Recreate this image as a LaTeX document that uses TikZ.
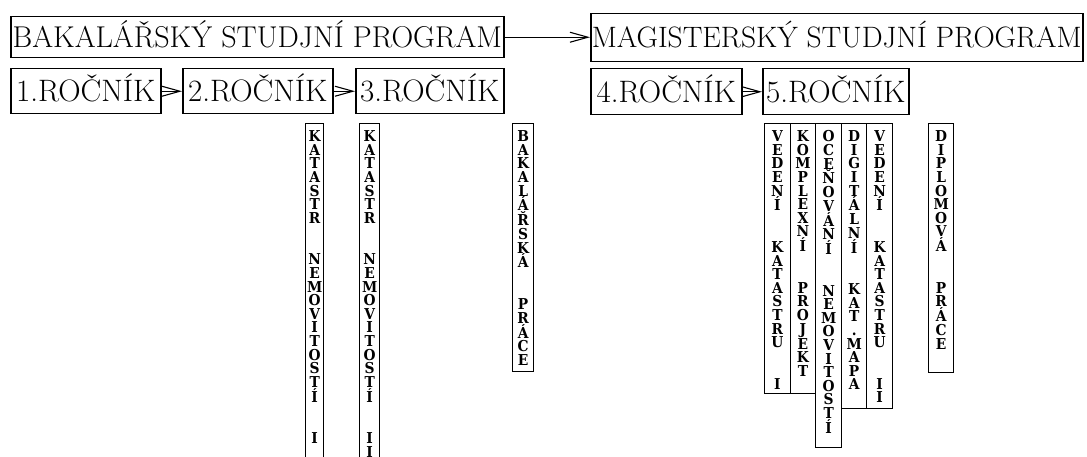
\documentclass[tikz,border=0pt]{standalone}
\usepackage{fontspec}
\newfontfamily\vfont{DejaVu Serif}
\usetikzlibrary{arrows.meta}
\newcommand\vletters[1]{\scalebox{0.92}[1]{\parbox{30pt}{\centering\vfont\bfseries\fontsize{15}{13.6}\selectfont #1}}}
\newcommand\vcol[6]{%
  \node[vbox, minimum width=#3pt, minimum height=#5pt] (#1) at (#2,#4) {};
  \node[vtext] (#1-t) at (#1.north) {\vletters{#6}};
}
\begin{document}
\begin{tikzpicture}[x=1pt,y=-1pt,
  box/.style={draw, line width=1.5pt, inner sep=0pt, text depth=0pt, anchor=north west},
  titlebox/.style={box, font=\fontsize{30.1}{32}\selectfont, text height=20.5pt},
  yearbox/.style={box, font=\fontsize{31}{33}\selectfont, text height=21pt},
  arr/.style={line width=1.1pt, -{Straight Barb[length=18pt,width=10pt,line width=1.1pt]}},
  vbox/.style={draw, line width=1.3pt, inner sep=0pt, anchor=north west},
  vtext/.style={inner sep=0pt, anchor=north, yshift=-7.5pt}
]
\useasboundingbox (0,0) rectangle (1087,457);
\clip (0,0) rectangle (1087,457);
% programmes
\node[titlebox, minimum width=493pt, minimum height=41pt] (bak) at (10,16) {BAKALÁŘSKÝ STUDJNÍ PROGRAM};
\node[titlebox, font=\fontsize{29.5}{32}\selectfont, minimum width=492pt, minimum height=48pt] (mag) at (590,13) {MAGISTERSKÝ STUDJNÍ PROGRAM};
\draw[arr] (bak.east) -- (bak.east -| mag.west);
% years
\node[yearbox, minimum width=150pt, minimum height=45pt] (r1) at (10,68) {1.ROČNÍK};
\node[yearbox, minimum width=150pt, minimum height=45pt] (r2) at (182,68) {2.ROČNÍK};
\node[yearbox, minimum width=148pt, minimum height=45pt] (r3) at (355,68) {3.ROČNÍK};
\node[yearbox, minimum width=151pt, minimum height=46pt] (r4) at (590,68) {4.ROČNÍK};
\node[yearbox, minimum width=146pt, minimum height=46pt] (r5) at (762,68) {5.ROČNÍK};
\draw[arr] (r1.east) -- (r2.west);
\draw[arr] (r2.east) -- (r3.west);
\draw[arr] (r4.east) -- (r5.west);
% subjects
\vcol{kn1}{305}{18}{123}{347}{K\\A\\T\\A\\S\\T\\R\\[28pt]N\\E\\M\\O\\V\\I\\T\\O\\S\\T\\Í\\[28pt]I}
\vcol{kn2}{359}{20}{123}{347}{K\\A\\T\\A\\S\\T\\R\\[28pt]N\\E\\M\\O\\V\\I\\T\\O\\S\\T\\Í\\[28pt]I\\I}
\vcol{bp}{512}{21}{123}{248}{B\\A\\K\\A\\L\\Á\\Ř\\S\\K\\Á\\[28pt]P\\R\\Á\\C\\E}
\vcol{vk1}{764}{25.5}{123}{270}{V\\E\\D\\E\\N\\Í\\[28pt]K\\A\\T\\A\\S\\T\\R\\U\\[28pt]I}
\vcol{kp}{789.5}{25.5}{123}{270}{K\\O\\M\\P\\L\\E\\X\\N\\Í\\[28pt]P\\R\\O\\J\\E\\K\\T}
\vcol{on}{815}{26}{123}{324}{O\\C\\E\\Ň\\O\\V\\Á\\N\\Í\\[28pt]N\\E\\M\\O\\V\\I\\T\\O\\S\\T\\Í}
\vcol{dkm}{841}{25}{123}{285}{D\\I\\G\\I\\T\\Á\\L\\N\\Í\\[28pt]K\\A\\T\\.\\M\\A\\P\\A}
\vcol{vk2}{866}{26}{123}{285}{V\\E\\D\\E\\N\\Í\\[28pt]K\\A\\T\\A\\S\\T\\R\\U\\[28pt]I\\I}
\vcol{dp}{928}{25}{123}{249}{D\\I\\P\\L\\O\\M\\O\\V\\Á\\[28pt]P\\R\\Á\\C\\E}
\end{tikzpicture}
\end{document}
